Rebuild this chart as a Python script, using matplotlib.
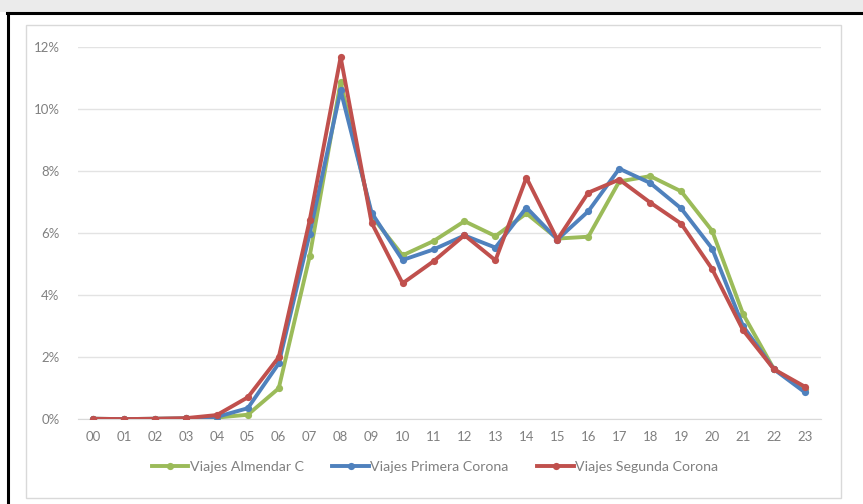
import matplotlib
matplotlib.use("Agg")
import matplotlib.pyplot as plt
from matplotlib.patches import Rectangle
from matplotlib.lines import Line2D
from matplotlib.ticker import FuncFormatter

plt.rcParams['font.family'] = ['Lato', 'DejaVu Sans']

hours = ["00", "01", "02", "03", "04", "05", "06", "07", "08", "09", "10", "11",
         "12", "13", "14", "15", "16", "17", "18", "19", "20", "21", "22", "23"]

almendar_c = [0.02, 0.01, 0.02, 0.03, 0.06, 0.15, 1.00, 5.25, 10.86, 6.55, 5.28, 5.74,
              6.38, 5.90, 6.63, 5.82, 5.88, 7.66, 7.83, 7.34, 6.07, 3.39, 1.61, 0.97]
primera_corona = [0.02, 0.01, 0.02, 0.03, 0.08, 0.36, 1.80, 5.98, 10.59, 6.65, 5.13, 5.47,
                  5.92, 5.53, 6.82, 5.79, 6.70, 8.07, 7.61, 6.79, 5.50, 3.00, 1.61, 0.87]
segunda_corona = [0.02, 0.01, 0.02, 0.04, 0.14, 0.71, 2.00, 6.41, 11.66, 6.33, 4.38, 5.09,
                  5.93, 5.12, 7.78, 5.79, 7.30, 7.72, 6.98, 6.30, 4.84, 2.87, 1.61, 1.05]

series = [
    ("Viajes Almendar C", almendar_c, "#9BBB59"),
    ("Viajes Primera Corona", primera_corona, "#4F81BD"),
    ("Viajes Segunda Corona", segunda_corona, "#C0504D"),
]

W, H = 863, 504
fig = plt.figure(figsize=(W / 100, H / 100), dpi=100)
fig.patch.set_facecolor("white")

# screenshot surround: grey strip at the top and a black frame
fig.add_artist(Rectangle((0, 1 - 12 / H), 1, 12 / H, transform=fig.transFigure,
                         facecolor="#ebebeb", edgecolor="none", zorder=0))
fig.add_artist(Line2D([7 / W, 1], [1 - 12.5 / H, 1 - 12.5 / H], transform=fig.transFigure,
                      color="black", lw=2.2, zorder=1))
fig.add_artist(Line2D([8 / W, 8 / W], [0, 1 - 12.5 / H], transform=fig.transFigure,
                      color="black", lw=2.2, zorder=1))
# chart area border
fig.add_artist(Rectangle((26 / W, 1 - 498 / H), (841 - 26) / W, (498 - 25) / H,
                         transform=fig.transFigure, facecolor="none",
                         edgecolor="#d9d9d9", lw=1.0, zorder=1))

ax = fig.add_axes([77.5 / W, 84.6 / H, (820.5 - 77.5) / W, (457.4 - 84.6) / H])
x = list(range(len(hours)))
for name, vals, col in series:
    ax.plot(x, vals, color=col, lw=2.8, marker="o", markersize=5.2,
            markeredgewidth=0, label=name, solid_joinstyle="round", zorder=3)

ax.set_xlim(-0.5, 23.5)
ax.set_ylim(0, 12)
ax.set_yticks([0, 2, 4, 6, 8, 10, 12])
ax.yaxis.set_major_formatter(FuncFormatter(lambda v, p: f"{v:.0f}%"))
ax.set_xticks(x)
ax.set_xticklabels(hours)
ax.grid(axis="y", color="#e3e3e3", lw=1.0, zorder=0)
ax.set_axisbelow(True)
for s in ["top", "right", "left"]:
    ax.spines[s].set_visible(False)
ax.spines["bottom"].set_color("#d9d9d9")
ax.tick_params(axis="both", length=0, colors="#808080", labelsize=9.5)
ax.tick_params(axis="y", pad=13)
ax.tick_params(axis="x", pad=8)

leg = fig.legend(loc="center", bbox_to_anchor=(435 / W, 1 - 467 / H), ncol=3,
                 frameon=False, fontsize=10.2, handlelength=2.6, handletextpad=0.1,
                 columnspacing=2.0, labelcolor="#808080")

fig.savefig("out.png", dpi=100)
